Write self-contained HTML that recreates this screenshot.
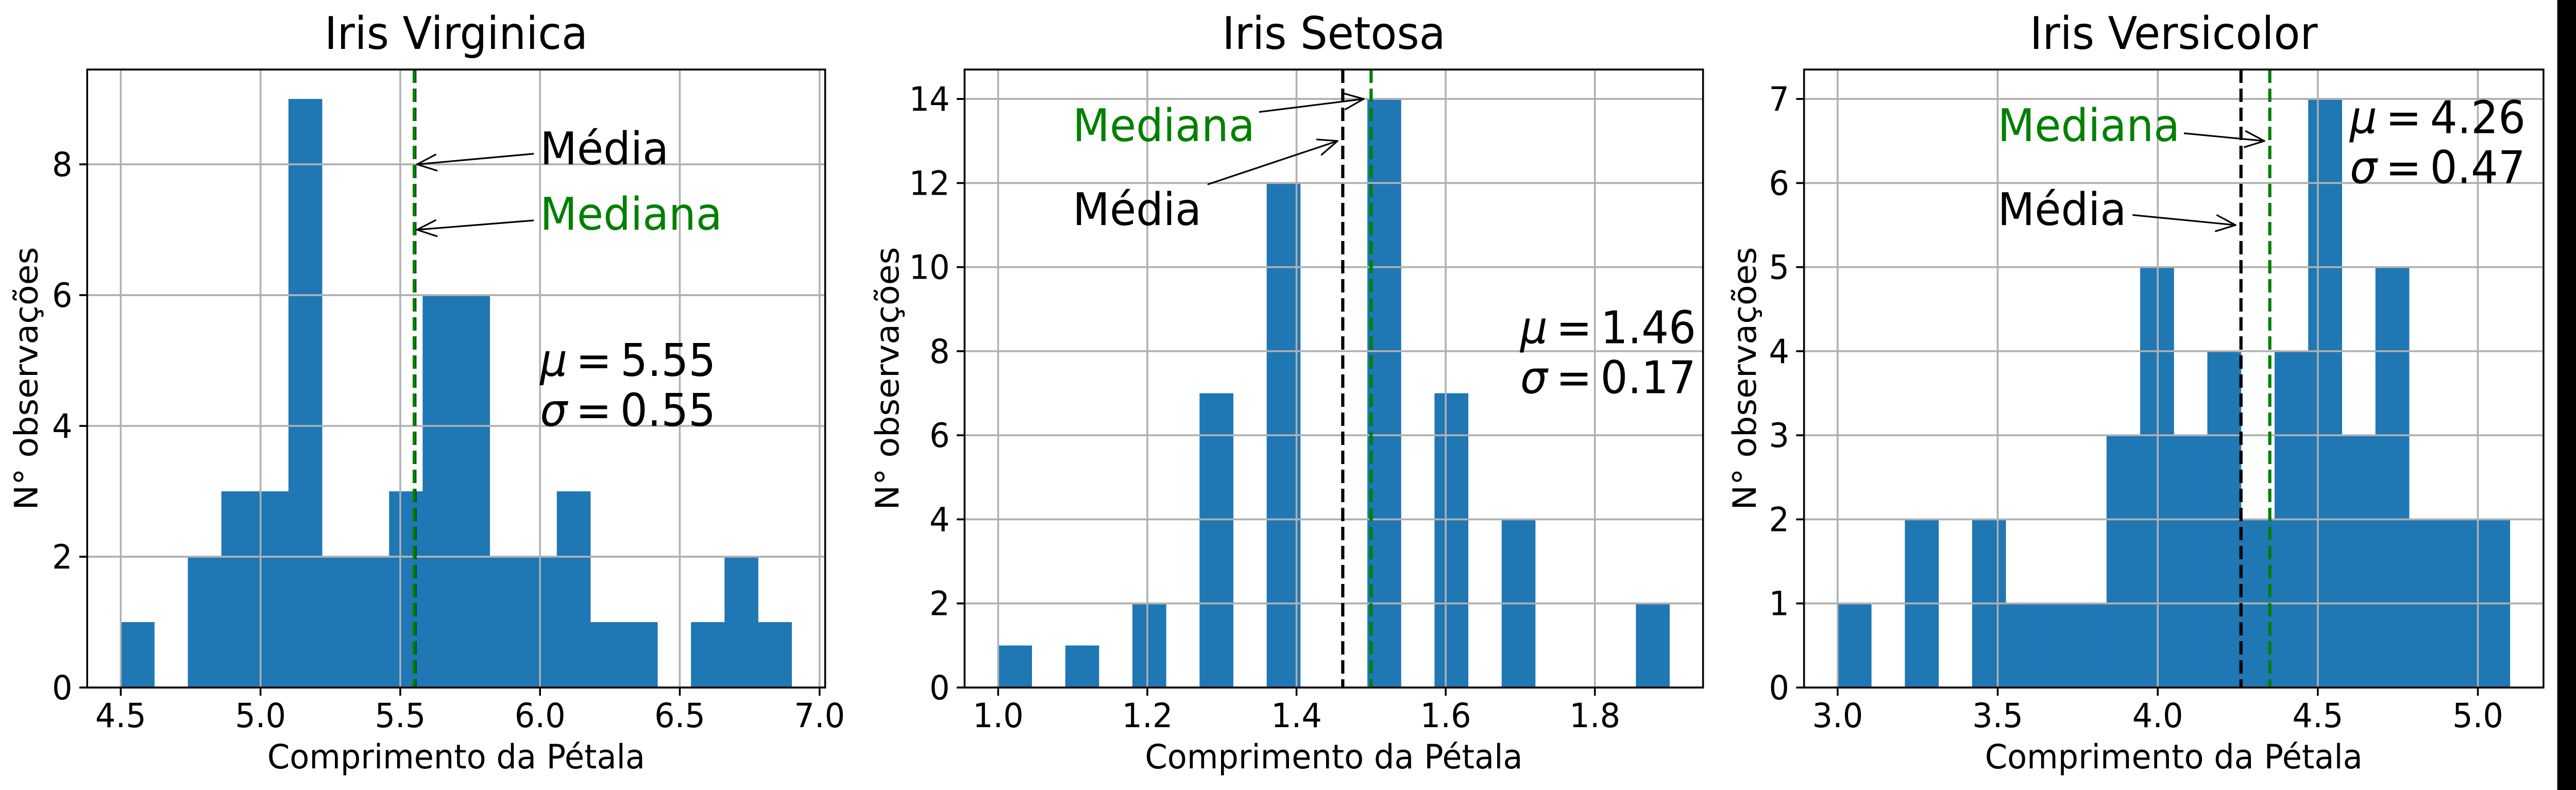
<!DOCTYPE html>
<html><head><meta charset="utf-8">
<style>
html,body{margin:0;padding:0;background:#fff;width:100vw;height:100vh;overflow:hidden;}
svg{display:block;width:100vw;height:100vh;font-family:"DejaVu Sans","Liberation Sans",sans-serif;}
</style></head>
<body>
<svg id="fig" xmlns="http://www.w3.org/2000/svg" viewBox="0 0 5229 1534" preserveAspectRatio="none">
<rect x="0" y="0" width="5229" height="1534" fill="#fff"/>
<rect x="5191" y="0" width="38" height="1534" fill="#000"/>
</svg>
<script>
// ---- data ----
const virginicaCounts = [1,0,2,3,3,9,2,2,3,6,6,2,2,3,1,1,0,1,2,1];
const setosaCounts = [1,0,1,0,2,0,7,0,12,0,0,14,0,7,0,4,0,0,0,2];
const versicolorCounts = [1,0,2,0,2,1,1,1,3,5,3,4,2,4,7,3,5,2,2,2];
const binStarts = [4.5, 1.0, 3.0];
const binWidths = [0.12, 0.045, 0.105];
const titles = ["Iris Virginica","Iris Setosa","Iris Versicolor"];
const means = [5.552, 1.462, 4.26];
const medians = [5.55, 1.50, 4.35];
const meanLabels = ["5.55","1.46","4.26"];
const sdLabels = ["0.55","0.17","0.47"];
const xTicks1 = [4.5,5.0,5.5,6.0,6.5,7.0];
const xTicks2 = [1.0,1.2,1.4,1.6,1.8];
const xTicks3 = [3.0,3.5,4.0,4.5,5.0];
const yTicks1 = [0,2,4,6,8];
const yTicks2 = [0,2,4,6,8,10,12,14];
const yTicks3 = [0,1,2,3,4,5,6,7];
const xLims = [[4.38,7.02],[0.955,1.945],[2.895,5.205]];
const yMaxes = [9.45,14.7,7.35];
// annotations: [textX,textY,tipX,tipY]
const medianAnno = [[6.0,7,5.56,7],[1.1,13,1.49,14],[3.5,6.5,4.333,6.5]];
const meanAnno = [[6.0,8,5.56,8],[1.1,11,1.455,13],[3.5,5.5,4.243,5.5]];
const statsPos = [[6.0,4.0],[1.7,7.0],[4.6,6.0]];

const NS="http://www.w3.org/2000/svg";
const svg=document.getElementById('fig');
function mk(tag,attrs,parent){const e=document.createElementNS(NS,tag);for(const k in attrs)e.setAttribute(k,attrs[k]);(parent||svg).appendChild(e);return e;}

const axLeft=[177,1958,3662], axRight=[1675,3457,5163];
const TOP=135, BOT=1335;
const countsAll=[virginicaCounts,setosaCounts,versicolorCounts];
const xTicksAll=[xTicks1,xTicks2,xTicks3];
const yTicksAll=[yTicks1,yTicks2,yTicks3];
const yLabelOff=[101,134,98];
const FS=65, AFS=87;

for(let p=0;p<3;p++){
  const L=axLeft[p],R=axRight[p];
  const [x0,x1]=xLims[p];
  const X=v=>L+(v-x0)/(x1-x0)*(R-L);
  const Y=v=>BOT-v/yMaxes[p]*(BOT-TOP);
  const g=mk('g',{});
  
  
  const counts=countsAll[p];
  for(let i=0;i<counts.length;i++){
    if(!counts[i])continue;
    const a=binStarts[p]+i*binWidths[p], b=a+binWidths[p];
    const r=mk('rect',{x:X(a),y:Y(counts[i]),width:X(b)-X(a)+0.5,height:BOT-Y(counts[i]),fill:'#1f77b4'},g);
    
    
  }
  xTicksAll[p].forEach(t=>{
    const l=mk('line',{x1:X(t),x2:X(t),y1:TOP,y2:BOT,stroke:'#b0b0b0','stroke-width':3.7},g);
    
    
    mk('line',{x1:X(t),x2:X(t),y1:BOT,y2:BOT+16,stroke:'#000','stroke-width':3.7},g);
    const tx=mk('text',{x:X(t),y:1412,'font-size':FS,'text-anchor':'middle'},g);
    tx.textContent=t.toFixed(1);
    
    
  });
  yTicksAll[p].forEach(t=>{
    const l=mk('line',{x1:L,x2:R,y1:Y(t),y2:Y(t),stroke:'#b0b0b0','stroke-width':3.7},g);
    
    
    mk('line',{x1:L-16,x2:L,y1:Y(t),y2:Y(t),stroke:'#000','stroke-width':3.7},g);
    const ty=mk('text',{x:L-30,y:Y(t)+23,'font-size':FS,'text-anchor':'end'},g);
    ty.textContent=String(t);
    
    
  });
  const ml=mk('line',{x1:X(means[p]),x2:X(means[p]),y1:TOP,y2:BOT,stroke:'#000','stroke-width':6.5,'stroke-dasharray':'26 11'},g);
  
  
  const dl=mk('line',{x1:X(medians[p]),x2:X(medians[p]),y1:TOP,y2:BOT,stroke:'#008000','stroke-width':6.5,'stroke-dasharray':'26 11'},g);
  
  
  const sp=mk('rect',{x:L,y:TOP,width:R-L,height:BOT-TOP,fill:'none',stroke:'#000','stroke-width':3.7},g);
  
  
  function anno(spec,label,color,name){
    const [tx,ty,px,py]=spec;
    const t=mk('text',{x:X(tx),y:Y(ty),'font-size':AFS,fill:color},g);
    t.textContent=label;
    
    
    const w=label.length*AFS*0.6;
    const pad=14;
    const bx0=X(tx)-pad,bx1=X(tx)+w+pad,by0=Y(ty)-AFS*0.76-pad,by1=Y(ty)+pad;
    const cx=(bx0+bx1)/2,cy=(by0+by1)/2;
    const tipX=X(px),tipY=Y(py);
    const dx=tipX-cx,dy=tipY-cy;
    let s=Infinity;
    if(dx!==0)s=Math.min(s,((dx>0?bx1:bx0)-cx)/dx);
    if(dy!==0)s=Math.min(s,((dy>0?by1:by0)-cy)/dy);
    const sx=cx+dx*s,sy=cy+dy*s;
    const a=mk('g',{stroke:'#000','stroke-width':3.2,fill:'none','stroke-linecap':'round'},g);
    
    
    mk('line',{x1:sx,y1:sy,x2:tipX,y2:tipY},a);
    const ang=Math.atan2(tipY-sy,tipX-sx);
    [0.38,-0.38].forEach(d=>{
      mk('line',{x1:tipX,y1:tipY,x2:tipX-42*Math.cos(ang+d),y2:tipY-42*Math.sin(ang+d)},a);
    });
  }
  anno(meanAnno[p],'Média','#000','mean');
  anno(medianAnno[p],'Mediana','#008000','median');
  const [sx,sy]=statsPos[p];
  const st=mk('text',{x:X(sx),y:Y(sy)-97,'font-size':AFS},g);
  
  
  st.innerHTML='<tspan font-style="italic">μ</tspan><tspan>\u2009=\u2009'+meanLabels[p]+'</tspan>';
  const st2=mk('text',{x:X(sx),y:Y(sy),'font-size':AFS},g);
  
  
  st2.innerHTML='<tspan font-style="italic">σ</tspan><tspan>\u2009=\u2009'+sdLabels[p]+'</tspan>';
  const ti=mk('text',{x:(L+R)/2,y:95,'font-size':AFS,'text-anchor':'middle'},g);
  ti.textContent=titles[p];
  
  
  const xl=mk('text',{x:(L+R)/2,y:1492,'font-size':FS,'text-anchor':'middle'},g);
  xl.textContent='Comprimento da Pétala';
  
  
  const lx=L-yLabelOff[p], ly=(TOP+BOT)/2;
  const yl=mk('text',{x:lx,y:ly,'font-size':FS,'text-anchor':'middle',transform:'rotate(-90 '+lx+' '+ly+')'},g);
  yl.textContent='N° observações';
  
  
}
</script>
</body></html>
